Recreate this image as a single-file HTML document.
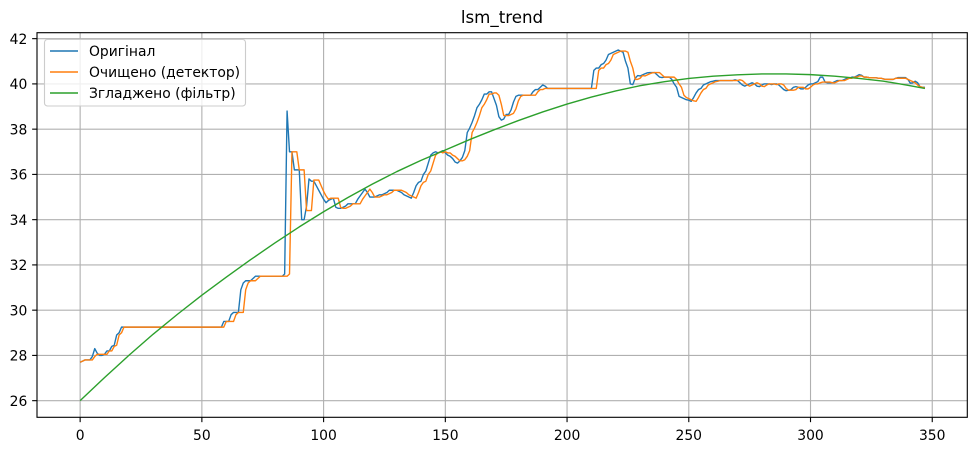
<!DOCTYPE html>
<html>
<head>
<meta charset="utf-8">
<style>
html,body{margin:0;padding:0;background:#fff;}
svg{display:block;font-family:"DejaVu Sans","Liberation Sans",sans-serif;}
</style>
</head>
<body>
<svg id="chart" xmlns="http://www.w3.org/2000/svg" width="977" height="451" viewBox="0 0 977 451">
<rect x="0" y="0" width="977" height="451" fill="#ffffff"/>
<text x="502" y="23" font-size="16.67" text-anchor="middle" fill="#000">lsm_trend</text>
<g id="grid"></g>
<g id="series"></g>
<g id="axes"></g>
<g>
<rect x="44.5" y="39.5" width="201" height="66.5" rx="3" ry="3" fill="#fff" fill-opacity="0.8" stroke="#cccccc" stroke-width="1.1"/>
<line x1="50" x2="78" y1="51" y2="51" stroke="#1f77b4" stroke-width="1.39"/>
<text x="89" y="56" font-size="13.89" fill="#000">Оригінал</text>
<line x1="50" x2="78" y1="72" y2="72" stroke="#ff7f0e" stroke-width="1.39"/>
<text x="89" y="77" font-size="13.89" fill="#000">Очищено (детектор)</text>
<line x1="50" x2="78" y1="93" y2="93" stroke="#2ca02c" stroke-width="1.39"/>
<text x="89" y="98" font-size="13.89" fill="#000">Згладжено (фільтр)</text>
</g>
</svg>
<script>
const xTickLabels = [0, 50, 100, 150, 200, 250, 300, 350];
const yTickLabels = [26, 28, 30, 32, 34, 36, 38, 40, 42];
const originalValues = [
27.7,27.75,27.8,27.8,27.8,27.95,28.3,28.1,28.0,28.0,
28.05,28.2,28.2,28.4,28.45,28.9,29.0,29.25,29.25,29.25,
29.25,29.25,29.25,29.25,29.25,29.25,29.25,29.25,29.25,29.25,
29.25,29.25,29.25,29.25,29.25,29.25,29.25,29.25,29.25,29.25,
29.25,29.25,29.25,29.25,29.25,29.25,29.25,29.25,29.25,29.25,
29.25,29.25,29.25,29.25,29.25,29.25,29.25,29.25,29.25,29.5,
29.5,29.5,29.8,29.9,29.9,29.9,30.9,31.2,31.3,31.3,
31.3,31.4,31.5,31.5,31.5,31.5,31.5,31.5,31.5,31.5,
31.5,31.5,31.5,31.5,31.6,38.8,37,37,36.2,36.2,
36.2,34,34,34.6,35.8,35.7,35.7,35.5,35.3,35.1,
34.9,34.75,34.85,34.9,34.95,34.55,34.5,34.5,34.55,34.6,
34.7,34.7,34.7,34.7,34.9,35.05,35.2,35.35,35.2,35,
35,35,35.05,35.1,35.1,35.15,35.2,35.3,35.3,35.3,
35.3,35.25,35.2,35.1,35.05,35,34.95,35.2,35.5,35.65,
35.7,36,36.15,36.5,36.85,36.95,37,36.95,37,37.05,
36.95,36.85,36.8,36.7,36.55,36.5,36.6,36.75,37.05,37.85,
38.05,38.3,38.6,38.95,39.1,39.3,39.55,39.55,39.65,39.65,
39.35,39.05,38.55,38.4,38.45,38.65,38.65,38.85,39.2,39.45,
39.5,39.5,39.5,39.5,39.5,39.5,39.65,39.75,39.75,39.85,
39.95,39.9,39.8,39.8,39.8,39.8,39.8,39.8,39.8,39.8,
39.8,39.8,39.8,39.8,39.8,39.8,39.8,39.8,39.8,39.8,
39.8,40.6,40.7,40.7,40.85,40.9,41.05,41.3,41.35,41.4,
41.45,41.5,41.45,41.4,41.0,40.7,40.0,39.97,40.25,40.37,
40.35,40.4,40.45,40.49,40.5,40.5,40.5,40.4,40.3,40.28,
40.3,40.3,40.3,40.2,40.0,39.85,39.45,39.4,39.35,39.3,
39.28,39.23,39.4,39.6,39.75,39.8,39.95,40.0,40.05,40.1,
40.12,40.15,40.15,40.15,40.15,40.15,40.15,40.15,40.15,40.18,
40.15,40.05,39.95,39.9,39.95,40.0,40.05,40.0,39.9,39.88,
39.95,40,40,40,39.97,40,40,39.95,39.85,39.75,
39.7,39.72,39.75,39.85,39.88,39.85,39.78,39.78,39.85,39.95,
40,40,40.05,40.1,40.3,40.3,40.08,40.05,40.05,40.05,
40.1,40.15,40.15,40.15,40.2,40.25,40.25,40.3,40.3,40.35,
40.41,40.38,40.3,40.3,40.28,40.27,40.27,40.27,40.25,40.25,
40.22,40.2,40.2,40.2,40.2,40.25,40.28,40.28,40.28,40.28,
40.2,40.03,40.05,40.12,40.05,39.87,39.85,39.85
];
const cleanedValues = [
27.7,27.75,27.8,27.8,27.8,27.8,27.95,28.05,28.05,28.05,
28.05,28.05,28.2,28.2,28.4,28.45,28.9,29,29.25,29.25,
29.25,29.25,29.25,29.25,29.25,29.25,29.25,29.25,29.25,29.25,
29.25,29.25,29.25,29.25,29.25,29.25,29.25,29.25,29.25,29.25,
29.25,29.25,29.25,29.25,29.25,29.25,29.25,29.25,29.25,29.25,
29.25,29.25,29.25,29.25,29.25,29.25,29.25,29.25,29.25,29.25,
29.5,29.5,29.5,29.5,29.8,29.9,29.9,29.9,30.9,31.2,
31.3,31.3,31.3,31.4,31.5,31.5,31.5,31.5,31.5,31.5,
31.5,31.5,31.5,31.5,31.5,31.5,31.6,37,37,37,
36.2,36.2,36.2,34.4,34.4,34.4,35.75,35.75,35.75,35.5,
35.25,35.05,34.9,34.95,34.95,34.95,34.95,34.55,34.5,34.5,
34.55,34.6,34.7,34.7,34.7,34.7,34.9,35.05,35.2,35.35,
35.2,35,35,35,35.05,35.1,35.1,35.15,35.2,35.3,
35.3,35.3,35.3,35.25,35.2,35.1,35.05,35,34.95,35.2,
35.5,35.65,35.7,36,36.15,36.5,36.85,36.95,37,36.95,
37,36.95,36.95,36.85,36.8,36.7,36.6,36.6,36.65,36.8,
37.05,37.85,38.05,38.3,38.6,38.95,39.1,39.3,39.55,39.55,
39.6,39.6,39.5,39.1,38.6,38.6,38.6,38.65,38.7,38.9,
39.25,39.45,39.5,39.5,39.5,39.5,39.5,39.5,39.65,39.75,
39.75,39.8,39.8,39.8,39.8,39.8,39.8,39.8,39.8,39.8,
39.8,39.8,39.8,39.8,39.8,39.8,39.8,39.8,39.8,39.8,
39.8,39.8,39.8,40.6,40.7,40.7,40.85,40.9,41.05,41.3,
41.35,41.4,41.45,41.45,41.45,41.4,41.0,40.7,40.2,40.2,
40.25,40.37,40.35,40.4,40.45,40.49,40.5,40.5,40.5,40.4,
40.3,40.3,40.3,40.3,40.3,40.2,40.0,39.85,39.5,39.4,
39.35,39.3,39.25,39.23,39.4,39.6,39.75,39.8,39.95,40.0,
40.05,40.1,40.12,40.15,40.15,40.15,40.15,40.15,40.15,40.15,
40.15,40.18,40.15,40.05,39.95,39.9,39.95,40.0,40.05,40.0,
39.9,39.88,39.95,40,40,40,39.97,40,40,39.95,
39.8,39.72,39.72,39.72,39.75,39.85,39.85,39.85,39.78,39.78,
39.85,39.95,40,40,40.05,40.08,40.08,40.08,40.08,40.05,
40.05,40.1,40.15,40.15,40.15,40.2,40.25,40.25,40.3,40.3,
40.35,40.35,40.3,40.3,40.28,40.27,40.27,40.27,40.25,40.25,
40.22,40.2,40.2,40.2,40.2,40.25,40.25,40.25,40.25,40.25,
40.2,40.15,40.1,40.05,39.95,39.88,39.85,39.82
];
const smoothedIndex = [0,10,20,30,40,50,60,70,80,90,100,110,120,130,140,150,160,170,180,190,200,210,220,230,240,250,260,270,280,290,300,310,320,330,340,347];
const smoothedValues = [26.0,27.02,28.0,28.94,29.82,30.66,31.46,32.23,32.97,33.68,34.35,34.98,35.57,36.12,36.62,37.08,37.54,37.97,38.38,38.76,39.11,39.42,39.69,39.92,40.1,40.24,40.34,40.4,40.44,40.44,40.41,40.34,40.24,40.12,39.94,39.8];

const plotLeft = 37, plotRight = 967.3, plotTop = 32.7, plotBottom = 417.3;
const xMin = -17.72, xMax = 364.4, yMin = 25.265, yMax = 42.263;
function xScale(v){ return plotLeft + (v - xMin) / (xMax - xMin) * (plotRight - plotLeft); }
function yScale(v){ return plotBottom - (v - yMin) / (yMax - yMin) * (plotBottom - plotTop); }

const NS = 'http://www.w3.org/2000/svg';
const gridG = document.getElementById('grid');
const axesG = document.getElementById('axes');
const seriesG = document.getElementById('series');

function makeLine(parent, x1, y1, x2, y2, color, w){
  const l = document.createElementNS(NS, 'line');
  l.setAttribute('x1', x1);
  l.setAttribute('y1', y1);
  l.setAttribute('x2', x2);
  l.setAttribute('y2', y2);
  l.setAttribute('stroke', color);
  l.setAttribute('stroke-width', w);
  parent.appendChild(l);
  return l;
}
function makeText(parent, x, y, anchor, str){
  const t = document.createElementNS(NS, 'text');
  t.setAttribute('x', x);
  t.setAttribute('y', y);
  t.setAttribute('text-anchor', anchor);
  t.setAttribute('font-size', '13.89');
  t.setAttribute('fill', '#000');
  t.textContent = str;
  parent.appendChild(t);
  return t;
}
xTickLabels.forEach(function(v){
  const px = xScale(v);
  const g = makeLine(gridG, px, plotTop, px, plotBottom, '#b0b0b0', 1.11);
  
  
  const tick = makeLine(axesG, px, plotBottom, px, plotBottom + 4.86, '#000', 1.11);
  
  
  const label = makeText(axesG, px, 440, 'middle', String(v));
  
  
});
yTickLabels.forEach(function(v){
  const py = yScale(v);
  const g = makeLine(gridG, plotLeft, py, plotRight, py, '#b0b0b0', 1.11);
  
  
  const tick = makeLine(axesG, plotLeft - 4.86, py, plotLeft, py, '#000', 1.11);
  
  
  const label = makeText(axesG, plotLeft - 9.7, py + 5.2, 'end', String(v));
  
  
});
function pathFrom(xs, ys){
  return ys.map(function(v, i){
    return (i ? 'L' : 'M') + xScale(xs ? xs[i] : i).toFixed(2) + ' ' + yScale(v).toFixed(2);
  }).join('');
}
function makeSeries(xs, ys, color){
  const p = document.createElementNS(NS, 'path');
  p.setAttribute('d', pathFrom(xs, ys));
  p.setAttribute('fill', 'none');
  p.setAttribute('stroke', color);
  p.setAttribute('stroke-width', '1.39');
  p.setAttribute('stroke-linejoin', 'round');
  seriesG.appendChild(p);
  return p;
}
const originalLine = makeSeries(null, originalValues, '#1f77b4');


const cleanedLine = makeSeries(null, cleanedValues, '#ff7f0e');


const smoothedLine = makeSeries(smoothedIndex, smoothedValues, '#2ca02c');



const frame = document.createElementNS(NS, 'rect');
frame.setAttribute('x', plotLeft);
frame.setAttribute('y', plotTop);
frame.setAttribute('width', plotRight - plotLeft);
frame.setAttribute('height', plotBottom - plotTop);
frame.setAttribute('fill', 'none');
frame.setAttribute('stroke', '#000');
frame.setAttribute('stroke-width', '1.11');


axesG.appendChild(frame);
</script>
</body>
</html>
